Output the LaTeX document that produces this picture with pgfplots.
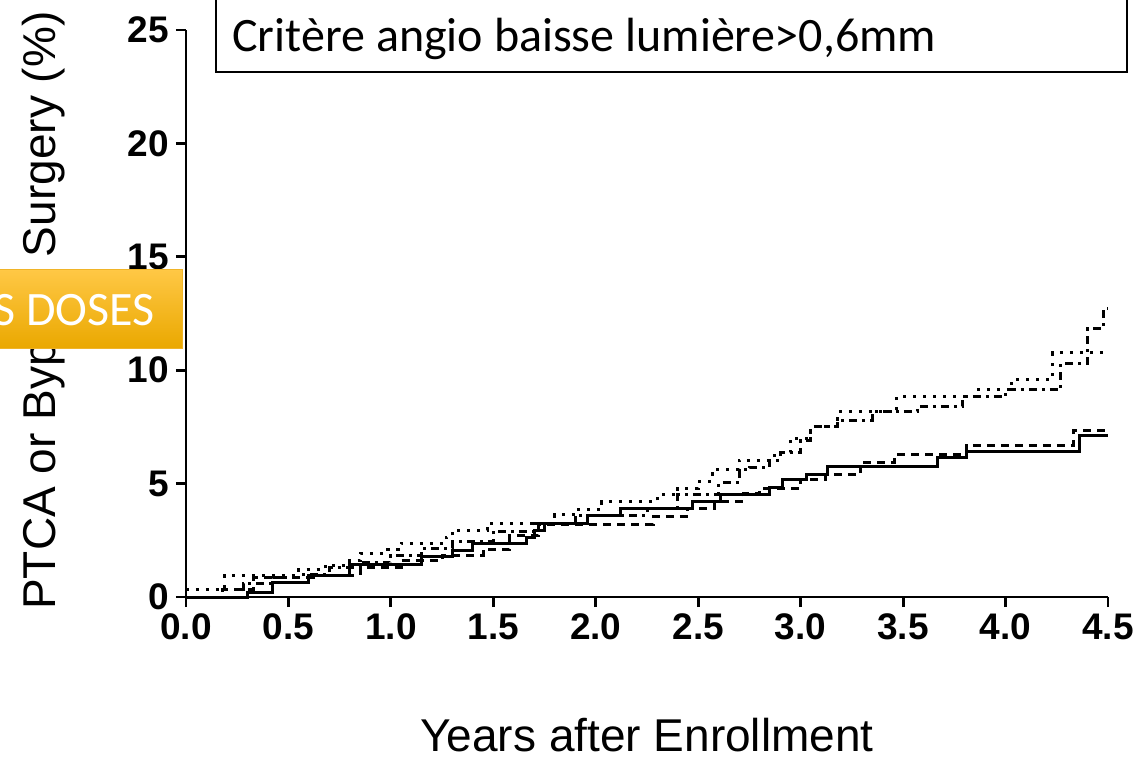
\documentclass[border=0pt]{standalone}
\usepackage{pgfplots}
\pgfplotsset{compat=1.18}
\usepackage{pgfplotstable}
\usepackage{fontspec}
\setmainfont{Liberation Sans}
\newfontfamily\calibri{Carlito}
\usetikzlibrary{shadings}

\pgfplotstableread{
x y
0 0
0.30 0.22
0.42 0.62
0.60 0.95
0.80 1.45
1.15 1.80
1.30 2.05
1.40 2.38
1.66 2.64
1.70 2.95
1.75 3.26
1.96 3.60
2.12 3.92
2.47 4.19
2.61 4.50
2.85 4.85
2.91 5.16
3.03 5.42
3.13 5.75
3.67 6.13
3.81 6.40
4.36 7.10
4.50 7.10
}\solid

\pgfplotstableread{
x y
0 0
0.18 0.35
0.33 0.88
0.62 0.95
0.85 1.30
1.05 1.60
1.25 1.85
1.45 2.10
1.58 2.70
1.72 3.20
2.28 3.53
2.45 3.92
2.58 4.19
2.72 4.55
2.80 4.80
3.00 5.20
3.12 5.38
3.29 5.95
3.46 6.30
3.81 6.66
4.33 7.36
4.50 7.36
}\dashed

\pgfplotstableread{
x y
0 0.35
0.19 0.97
0.55 1.20
0.68 1.41
0.80 1.60
0.85 1.94
0.97 2.10
1.05 2.38
1.27 2.64
1.30 2.95
1.47 3.26
1.80 3.62
1.90 3.84
2.03 4.19
2.30 4.50
2.40 4.80
2.50 5.10
2.57 5.64
2.70 6.04
2.87 6.35
2.95 7.00
3.05 7.50
3.18 8.16
3.47 8.86
3.85 9.13
4.03 9.60
4.23 10.76
4.50 10.76
}\dotted

\pgfplotstableread{
x y
0 0
0.28 0.60
0.42 0.88
0.55 1.00
0.70 1.30
0.85 1.50
1.00 1.85
1.15 2.16
1.30 2.43
1.50 2.91
1.70 3.26
1.90 3.60
2.25 3.90
2.40 4.50
2.60 5.03
2.70 5.60
2.75 5.73
2.85 6.04
2.90 6.35
3.00 6.92
3.05 7.50
3.18 7.80
3.35 8.16
3.57 8.38
3.79 8.82
4.00 9.13
4.27 10.30
4.40 11.86
4.48 12.74
4.50 12.74
}\dashdot

\begin{document}
\begin{tikzpicture}
\begin{axis}[
  at={(0,0)}, anchor=south west,
  scale only axis,
  width=461pt, height=283.5pt,
  xmin=0, xmax=4.5, ymin=0, ymax=25,
  axis lines=left,
  axis line style={-, line width=1.4pt},
  tick style={line width=1.4pt, black},
  tick align=outside,
  major tick length=5pt,
  xtick={0,0.5,1,1.5,2,2.5,3,3.5,4,4.5},
  xticklabels={0.0,0.5,1.0,1.5,2.0,2.5,3.0,3.5,4.0,4.5},
  ytick={0,5,10,15,20,25},
  yticklabels={0,5,10,15,20,25},
  /pgf/number format/assume math mode=true,
  ticklabel style={font=\bfseries\fontsize{18.5}{21}\selectfont},
  every axis y label/.style={at={(axis description cs:-0.154,0.505)}, rotate=90, anchor=center, inner sep=0pt},
  every axis x label/.style={at={(axis description cs:0.5,-0.243)}, anchor=center, inner sep=0pt},
  label style={font=\fontsize{23}{27}\selectfont},
  xlabel={Years after Enrollment},
  ylabel={PTCA or Bypass Surgery (\%)},
  clip=false,
]
\addplot[const plot, black, line width=1.5pt] table[x=x,y=y] {\solid};
\addplot[const plot, black, line width=1.5pt, dash pattern=on 4pt off 3pt] table[x=x,y=y] {\dashed};
\addplot[const plot, black, line width=1.5pt, dash pattern=on 1.6pt off 3.4pt] table[x=x,y=y] {\dotted};
\addplot[const plot, black, line width=1.5pt, dash pattern=on 4pt off 2.5pt on 1.5pt off 2.5pt] table[x=x,y=y] {\dashdot};
\end{axis}
% annotation boxes
\draw[line width=1pt, fill=white] (15pt,262.5pt) rectangle (470.5pt,320pt);
\node[anchor=base west, inner sep=0pt, font=\calibri\fontsize{24}{28}\selectfont] at (23pt,272.5pt) {Critère angio baisse lumière>0,6mm};
\shade[top color={rgb,255:red,255;green,200;blue,70}, bottom color={rgb,255:red,234;green,168;blue,0}, draw={rgb,255:red,240;green,180;blue,40}, line width=0.5pt] (-100pt,124.5pt) rectangle (-2pt,164pt);
\node[anchor=base east, inner sep=0pt, text=white, font=\calibri\fontsize{24}{28}\selectfont] at (-15.5pt,136pt) {S DOSES};
\pgfresetboundingbox
\path (-93pt,-79.5pt) rectangle (474.5pt,298.5pt);
\end{tikzpicture}
\end{document}
